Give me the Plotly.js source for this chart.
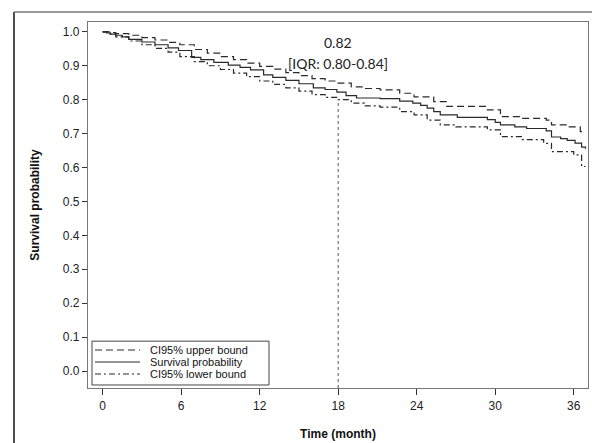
<!DOCTYPE html>
<html>
<head>
<meta charset="utf-8">
<script src="https://cdn.plot.ly/plotly-3.0.1.min.js"></script>
<style>html,body{margin:0;padding:0;background:#fff;}#chart{width:592px;height:443px;}</style>
</head>
<body>
<div id="chart"></div>
<script>
// Survival (Kaplan-Meier) estimate, months
var survMonths = [0, 0.3, 0.6, 1, 1.5, 2, 3, 4, 5, 5.8, 6.8, 7.5, 8.5, 9.6, 10.5, 11.3, 12.3, 13, 14, 15, 16.1, 17, 17.9, 18.6, 19.4, 21.2, 22.7, 23.7, 24.3, 24.8, 25.3, 25.8, 27.1, 29.4, 30.0, 30.4, 31.5, 32.4, 33.9, 34.3, 35.0, 35.5, 36.1, 36.6, 36.9];
var survProb   = [1.0, 0.997, 0.993, 0.99, 0.985, 0.978, 0.97, 0.962, 0.953, 0.945, 0.925, 0.918, 0.91, 0.902, 0.895, 0.888, 0.873, 0.866, 0.857, 0.847, 0.835, 0.83, 0.822, 0.812, 0.805, 0.803, 0.796, 0.79, 0.783, 0.775, 0.765, 0.755, 0.748, 0.741, 0.733, 0.726, 0.72, 0.715, 0.708, 0.69, 0.685, 0.68, 0.672, 0.66, 0.655];

var upperMonths = [0, 0.5, 1, 2, 3, 4, 5, 5.9, 7, 8, 9, 10, 11, 12, 13, 14, 15, 16, 17, 17.9, 19, 20, 21.2, 22.7, 23.8, 25.3, 26.3, 29.4, 30.4, 32, 33.9, 34.3, 35.5, 36.5, 36.9];
var upperProb   = [1.0, 0.998, 0.995, 0.99, 0.983, 0.976, 0.969, 0.962, 0.948, 0.937, 0.927, 0.918, 0.908, 0.898, 0.89, 0.88, 0.871, 0.862, 0.855, 0.849, 0.838, 0.833, 0.829, 0.819, 0.808, 0.794, 0.78, 0.77, 0.75, 0.745, 0.74, 0.726, 0.72, 0.706, 0.706];

var lowerMonths = [0, 0.5, 1, 2, 3, 4, 5, 5.9, 7, 8, 9, 10, 11, 12, 13, 14, 15, 16, 17, 17.9, 19, 20, 21.2, 22.7, 23.8, 24.8, 25.8, 27, 29.4, 30.4, 32, 33.7, 34.3, 36, 36.6, 36.9];
var lowerProb   = [1.0, 0.993, 0.985, 0.973, 0.962, 0.951, 0.94, 0.927, 0.912, 0.9, 0.889, 0.878, 0.868, 0.855, 0.845, 0.835, 0.825, 0.815, 0.807, 0.8, 0.79, 0.782, 0.778, 0.765, 0.755, 0.74, 0.726, 0.72, 0.711, 0.691, 0.682, 0.671, 0.647, 0.637, 0.603, 0.603];

var markMonth = [18, 18];
var markProb  = [-0.05, 0.80];

var xTicks = [0, 6, 12, 18, 24, 30, 36];
var yTicks = [0, 0.1, 0.2, 0.3, 0.4, 0.5, 0.6, 0.7, 0.8, 0.9, 1.0];
var medianText = "0.82";
var iqrText = "[IQR: 0.80-0.84]";
var legendNames = ["CI95% upper bound", "Survival probability", "CI95% lower bound"];
var legendDash = ["7px,4px", "solid", "6px,3px,2px,3px"];

var lineCol = '#2a2a2a';
var traces = [
  {x: upperMonths, y: upperProb, name: legendNames[0], type: 'scatter', mode: 'lines',
   line: {shape: 'hv', color: lineCol, width: 1.2, dash: legendDash[0]}},
  {x: survMonths, y: survProb, name: legendNames[1], type: 'scatter', mode: 'lines',
   line: {shape: 'hv', color: lineCol, width: 1.2}},
  {x: lowerMonths, y: lowerProb, name: legendNames[2], type: 'scatter', mode: 'lines',
   line: {shape: 'hv', color: lineCol, width: 1.2, dash: legendDash[2]}},
  {x: markMonth, y: markProb, type: 'scatter', mode: 'lines', showlegend: false,
   line: {color: '#555555', width: 1, dash: 'dot'}}
];

// legend box built in paper coordinates
var legRowsY = [0.1038, 0.071, 0.0383];
var shapes = [
  {type: 'line', xref: 'paper', yref: 'paper', x0: -0.148, x1: -0.148, y0: 1.027, y1: -0.2,
   line: {color: '#111111', width: 1.5}},
  {type: 'line', xref: 'paper', yref: 'paper', x0: -0.148, x1: 1.01, y0: 1.027, y1: 1.027,
   line: {color: '#777777', width: 1.5}},
  {type: 'rect', xref: 'paper', yref: 'paper', x0: 0.008, x1: 0.362, y0: 0.0082, y1: 0.128,
   fillcolor: '#ffffff', line: {color: '#444444', width: 1}}
];
var annotations = [
  {x: 18, y: 0.97, xref: 'x', yref: 'y', text: medianText, showarrow: false,
   font: {family: 'Lato, Open Sans, sans-serif', size: 14, color: '#222222'}},
  {x: 18, y: 0.908, xref: 'x', yref: 'y', text: iqrText, showarrow: false,
   font: {family: 'Lato, Open Sans, sans-serif', size: 14, color: '#222222'}}
];
for (var i = 0; i < legendNames.length; i++) {
  shapes.push({type: 'line', xref: 'paper', yref: 'paper', x0: 0.014, x1: 0.104,
    y0: legRowsY[i], y1: legRowsY[i], line: {color: lineCol, width: 1.2, dash: legendDash[i]}});
  annotations.push({x: 0.12, y: legRowsY[i], xref: 'paper', yref: 'paper', xanchor: 'left', yanchor: 'middle',
    text: legendNames[i], showarrow: false, font: {size: 11, color: '#111111'}});
}

var layout = {
  width: 592, height: 443,
  margin: {l: 88, r: 4, t: 22, b: 55},
  paper_bgcolor: '#ffffff', plot_bgcolor: '#ffffff',
  font: {family: 'Liberation Sans, Arial, sans-serif', size: 12, color: '#222222'},
  showlegend: false,
  xaxis: {range: [-1.12, 37.09], tickvals: xTicks, ticktext: xTicks.map(String),
    showgrid: false, zeroline: false, showline: true, mirror: true, linecolor: '#777777', linewidth: 1.2,
    ticks: 'outside', ticklen: 6, tickcolor: '#333333',
    tickfont: {size: 12, color: '#222222'},
    title: {text: '<b>Time (month)</b>', font: {size: 12, color: '#111111'}, standoff: 18}},
  yaxis: {range: [-0.05, 1.029], tickvals: yTicks, ticktext: yTicks.map(function(v){return v.toFixed(1);}),
    showgrid: false, zeroline: false, showline: true, mirror: true, linecolor: '#777777', linewidth: 1.2,
    ticks: 'outside', ticklen: 5, tickcolor: '#333333',
    tickfont: {size: 12, color: '#222222'},
    title: {text: '<b>Survival probability</b>', font: {size: 12, color: '#111111'}, standoff: 20}},
  annotations: annotations,
  shapes: shapes
};

Plotly.newPlot('chart', traces, layout, {displayModeBar: false, staticPlot: true});
</script>
</body>
</html>
